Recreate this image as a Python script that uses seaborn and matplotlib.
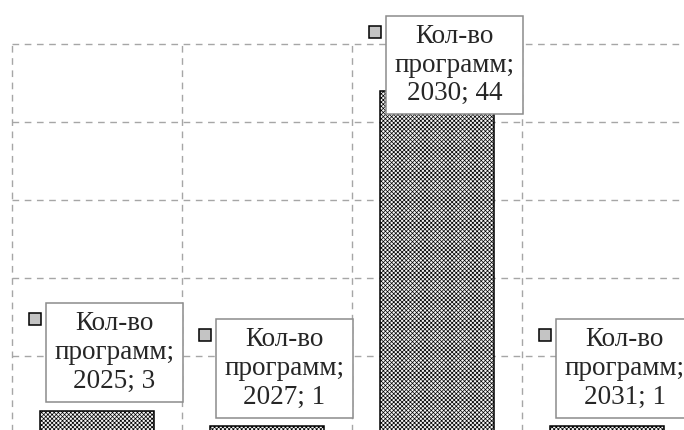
import numpy as np
import pandas as pd
import matplotlib
matplotlib.use('Agg')
import matplotlib.pyplot as plt
import seaborn as sns

years=['2025','2027','2030','2031']
counts=[3,1,44,1]
series_name='Кол-во\nпрограмм;'

sns.set_style('white')
plt.rcParams['font.family']=['Liberation Serif','DejaVu Serif']
plt.rcParams['hatch.color']='#6a6a6a'
plt.rcParams['hatch.linewidth']=0.5
plt.rcParams['lines.scale_dashes']=False

fig=plt.figure(figsize=(6.84,4.30),dpi=100)
# plot area runs past the right and bottom edge of the picture
ax=fig.add_axes([12/684,-4/430,680/684,390/430])

sns.barplot(x=years,y=counts,ax=ax,width=0.67,color='#f4f4f4',edgecolor='black',
            linewidth=1.1,hatch='xxxxxxxx',saturation=1)

ax.set_xlim(-0.5,3.5)
ax.set_ylim(0,50)
ax.set_axis_off()

grid_kw=dict(color='#a6a6a6',lw=1.0,dashes=(4.8,4.0),clip_on=False,zorder=0)
for gy in [10,20,30,40,50]:
    ax.axhline(gy,**grid_kw)
for gx in np.arange(-0.5,4,1):
    ax.axvline(gx,**grid_kw)

for i,(yr,v) in enumerate(zip(years,counts)):
    ly=min(v+7.44,47.3)
    ax.text(i+0.103,ly,f'{series_name}\n{yr}; {v}',ha='center',va='center',
            fontsize=19.5,linespacing=1.2,zorder=5,
            bbox=dict(boxstyle='square,pad=0.3',fc='white',ec='#8c8c8c',lw=1.1))
    # little legend key in front of each label
    ax.plot([i-0.365],[ly+4.3],marker='s',ms=8.2,mfc='#c4c4c4',mec='black',mew=1.1,
            clip_on=False,zorder=5)

fig.savefig('out.png',dpi=100)
